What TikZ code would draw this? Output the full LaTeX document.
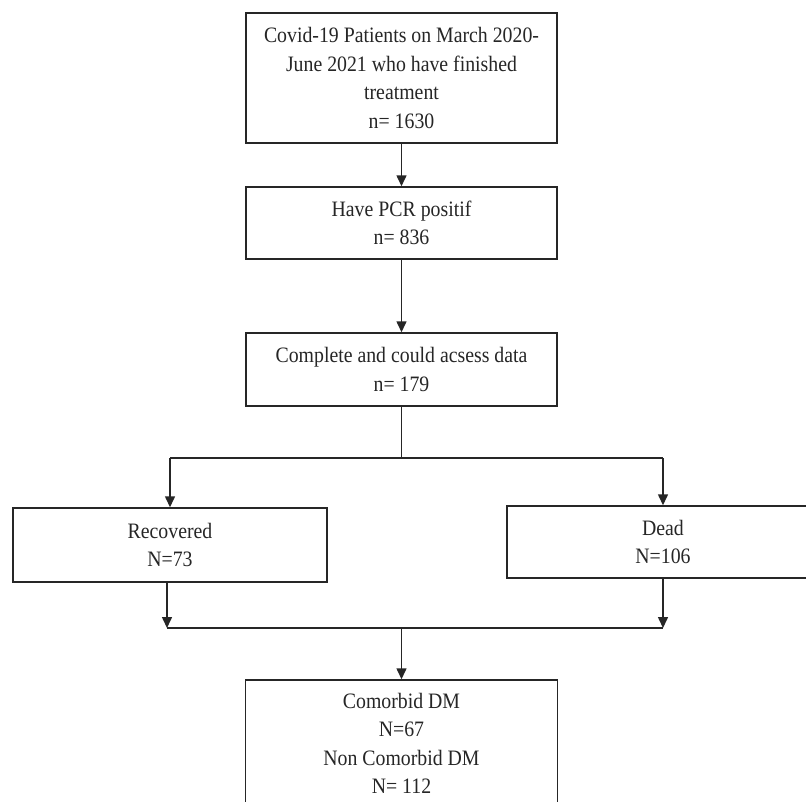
\documentclass[tikz,border=0pt]{standalone}
\usepackage{fontspec}
\setmainfont[FakeStretch=0.9]{Liberation Serif}
\usetikzlibrary{arrows.meta}
\tikzset{
  box/.style={draw=black!85, line width=1.5pt, align=center, inner sep=0pt,
    font=\fontsize{22}{28.5}\selectfont, text=black!85},
  conn/.style={draw=black!85, line width=1.5pt},
  arr/.style={conn, -{Triangle[width=10pt,length=11pt]}}
}
\begin{document}
\begin{tikzpicture}[x=1pt,y=-1pt]
\clip (0,0) rectangle (806,801);
\fill[white] (0,0) rectangle (806,801);
\node[box, minimum width=311pt, minimum height=130pt] (b1) at (401.5,78)
  {Covid-19 Patients on March 2020-\\June 2021 who have finished\\treatment\\n= 1630};
\node[box, minimum width=311pt, minimum height=72pt] (b2) at (401.5,223)
  {Have PCR positif\\n= 836};
\node[box, minimum width=311pt, minimum height=73pt] (b3) at (401.5,369.5)
  {Complete and could acsess data\\n= 179};
\node[box, minimum width=314pt, minimum height=74pt] (rec) at (170,545)
  {Recovered\\N=73};
\node[box, minimum width=312pt, minimum height=72pt] (dead) at (663,542)
  {Dead\\N=106};
\node[box, minimum width=312pt, minimum height=127pt] (bot) at (401.5,743.5)
  {Comorbid DM\\N=67\\Non Comorbid DM\\N= 112};
\coordinate (j1) at (401.5,458);
\coordinate (jl) at (170,458);
\coordinate (jr) at (663,458);
\coordinate (bl) at (167,628);
\coordinate (br) at (663,628);
\coordinate (bm) at (401.5,628);
\draw[arr] (b1.south) -- (b2.north);
\draw[arr] (b2.south) -- (b3.north);
\draw[conn] (b3.south) -- (j1);
\draw[conn] (jl) -- (jr);
\draw[arr] (jl) -- (rec.north);
\draw[arr] (jr) -- (dead.north);
\draw[arr] (bl |- rec.south) -- (bl);
\draw[arr] (dead.south) -- (br);
\draw[conn] (bl) -- (br);
\draw[arr] (bm) -- (bot.north);
\end{tikzpicture}
\end{document}
